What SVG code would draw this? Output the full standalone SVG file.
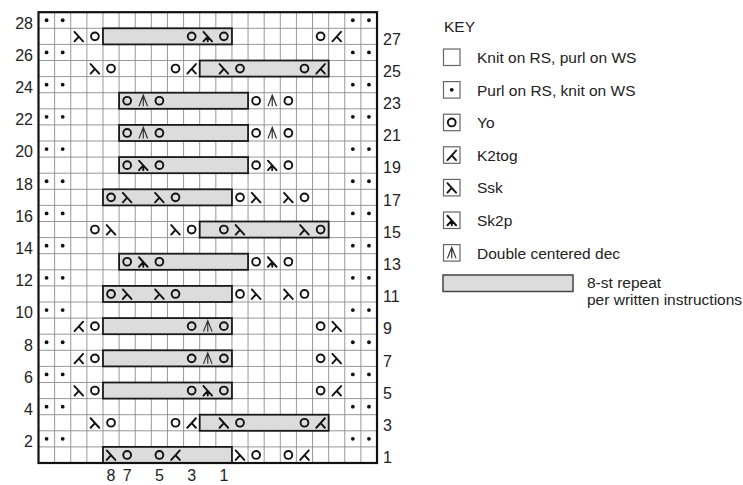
<svg xmlns="http://www.w3.org/2000/svg" xmlns:xlink="http://www.w3.org/1999/xlink" width="743" height="485" viewBox="0 0 743 485">
<style>
.grid{stroke:#858585;stroke-width:0.85;fill:none}
.border{fill:none;stroke:#111;stroke-width:2.2}
.rep{fill:#dcdcdc;stroke:#1a1a1a;stroke-width:1.8}
.sym{fill:none;stroke:#111;stroke-width:1.9;stroke-linecap:round}
.thin{fill:none;stroke:#333;stroke-width:1.2}
.num{font-family:"Liberation Sans",Arial,sans-serif;font-size:16px;fill:#222}
.key{font-family:"Liberation Sans",Arial,sans-serif;font-size:15.5px;fill:#222}
.kbox{fill:#fff;stroke:#666;stroke-width:1.2}
</style>
<defs>
<circle id="yo" r="3.9" class="sym" stroke-width="1.8"/>
<path id="ssk" class="sym" d="M-4.3,-4.5 L4.3,5 M0,0.3 L-4.3,5"/>
<path id="k2" class="sym" d="M4.3,-4.5 L-4.3,5 M0,0.3 L4.3,5"/>
<path id="sk2p" class="sym" d="M-4.3,-4.5 L4.3,5 M0,0.3 L-4.3,5 M0,0.3 L0,5"/>
<path id="dcd" class="thin" d="M-4.3,5.5 L0,-5.5 L4.3,5.5 M0,-5.5 L0,5.5"/>
<circle id="dot" r="1.9" fill="#111"/>
<g id="pr">
<use href="#dot" x="46.56"/><use href="#dot" x="62.68"/><use href="#dot" x="352.84"/><use href="#dot" x="368.96"/>
</g>
</defs>
<rect width="743" height="485" fill="#fff"/>
<g id="chart">
<path class="grid" d="M54.62,12.2V463M70.74,12.2V463M86.86,12.2V463M102.98,12.2V463M119.1,12.2V463M135.22,12.2V463M151.34,12.2V463M167.46,12.2V463M183.58,12.2V463M199.7,12.2V463M215.82,12.2V463M231.94,12.2V463M248.06,12.2V463M264.18,12.2V463M280.3,12.2V463M296.42,12.2V463M312.54,12.2V463M328.66,12.2V463M344.78,12.2V463M360.9,12.2V463
M38.5,28.3H377M38.5,44.4H377M38.5,60.5H377M38.5,76.6H377M38.5,92.7H377M38.5,108.8H377M38.5,124.9H377M38.5,141H377M38.5,157.1H377M38.5,173.2H377M38.5,189.3H377M38.5,205.4H377M38.5,221.5H377M38.5,237.6H377M38.5,253.7H377M38.5,269.8H377M38.5,285.9H377M38.5,302H377M38.5,318.1H377M38.5,334.2H377M38.5,350.3H377M38.5,366.4H377M38.5,382.5H377M38.5,398.6H377M38.5,414.7H377M38.5,430.8H377M38.5,446.9H377"/>
<g id="repeats">
<rect class="rep" x="102.98" y="28.3" width="128.96" height="16.1"/>
<rect class="rep" x="199.7" y="60.5" width="128.96" height="16.1"/>
<rect class="rep" x="119.1" y="92.7" width="128.96" height="16.1"/>
<rect class="rep" x="119.1" y="124.9" width="128.96" height="16.1"/>
<rect class="rep" x="119.1" y="157.1" width="128.96" height="16.1"/>
<rect class="rep" x="102.98" y="189.3" width="128.96" height="16.1"/>
<rect class="rep" x="199.7" y="221.5" width="128.96" height="16.1"/>
<rect class="rep" x="119.1" y="253.7" width="128.96" height="16.1"/>
<rect class="rep" x="102.98" y="285.9" width="128.96" height="16.1"/>
<rect class="rep" x="102.98" y="318.1" width="128.96" height="16.1"/>
<rect class="rep" x="102.98" y="350.3" width="128.96" height="16.1"/>
<rect class="rep" x="102.98" y="382.5" width="128.96" height="16.1"/>
<rect class="rep" x="199.7" y="414.7" width="128.96" height="16.1"/>
<rect class="rep" x="102.98" y="446.9" width="128.96" height="16.1"/>
</g>
<rect class="border" x="38.5" y="12.2" width="338.52" height="450.8"/>
<g id="purls">
<use href="#pr" y="20.25"/><use href="#pr" y="52.45"/><use href="#pr" y="84.65"/><use href="#pr" y="116.85"/><use href="#pr" y="149.05"/><use href="#pr" y="181.25"/><use href="#pr" y="213.45"/><use href="#pr" y="245.65"/><use href="#pr" y="277.85"/><use href="#pr" y="310.05"/><use href="#pr" y="342.25"/><use href="#pr" y="374.45"/><use href="#pr" y="406.65"/><use href="#pr" y="438.85"/>
</g>
<g id="row27">
<use href="#ssk" x="78.8" y="36.35"/><use href="#yo" x="94.92" y="36.35"/><use href="#yo" x="191.64" y="36.35"/><use href="#sk2p" x="207.76" y="36.35"/><use href="#yo" x="223.88" y="36.35"/><use href="#yo" x="320.6" y="36.35"/><use href="#k2" x="336.72" y="36.35"/>
</g>
<g id="row25">
<use href="#ssk" x="94.92" y="68.55"/><use href="#yo" x="111.04" y="68.55"/><use href="#yo" x="175.52" y="68.55"/><use href="#k2" x="191.64" y="68.55"/><use href="#ssk" x="223.88" y="68.55"/><use href="#yo" x="240" y="68.55"/><use href="#yo" x="304.48" y="68.55"/><use href="#k2" x="320.6" y="68.55"/>
</g>
<g id="row23">
<use href="#yo" x="127.16" y="100.75"/><use href="#dcd" x="143.28" y="100.75"/><use href="#yo" x="159.4" y="100.75"/><use href="#yo" x="256.12" y="100.75"/><use href="#dcd" x="272.24" y="100.75"/><use href="#yo" x="288.36" y="100.75"/>
</g>
<g id="row21">
<use href="#yo" x="127.16" y="132.95"/><use href="#dcd" x="143.28" y="132.95"/><use href="#yo" x="159.4" y="132.95"/><use href="#yo" x="256.12" y="132.95"/><use href="#dcd" x="272.24" y="132.95"/><use href="#yo" x="288.36" y="132.95"/>
</g>
<g id="row19">
<use href="#yo" x="127.16" y="165.15"/><use href="#sk2p" x="143.28" y="165.15"/><use href="#yo" x="159.4" y="165.15"/><use href="#yo" x="256.12" y="165.15"/><use href="#sk2p" x="272.24" y="165.15"/><use href="#yo" x="288.36" y="165.15"/>
</g>
<g id="row17">
<use href="#yo" x="111.04" y="197.35"/><use href="#ssk" x="127.16" y="197.35"/><use href="#ssk" x="159.4" y="197.35"/><use href="#yo" x="175.52" y="197.35"/><use href="#yo" x="240" y="197.35"/><use href="#ssk" x="256.12" y="197.35"/><use href="#ssk" x="288.36" y="197.35"/><use href="#yo" x="304.48" y="197.35"/>
</g>
<g id="row15">
<use href="#yo" x="94.92" y="229.55"/><use href="#ssk" x="111.04" y="229.55"/><use href="#ssk" x="175.52" y="229.55"/><use href="#yo" x="191.64" y="229.55"/><use href="#yo" x="223.88" y="229.55"/><use href="#ssk" x="240" y="229.55"/><use href="#ssk" x="304.48" y="229.55"/><use href="#yo" x="320.6" y="229.55"/>
</g>
<g id="row13">
<use href="#yo" x="127.16" y="261.75"/><use href="#sk2p" x="143.28" y="261.75"/><use href="#yo" x="159.4" y="261.75"/><use href="#yo" x="256.12" y="261.75"/><use href="#sk2p" x="272.24" y="261.75"/><use href="#yo" x="288.36" y="261.75"/>
</g>
<g id="row11">
<use href="#yo" x="111.04" y="293.95"/><use href="#ssk" x="127.16" y="293.95"/><use href="#ssk" x="159.4" y="293.95"/><use href="#yo" x="175.52" y="293.95"/><use href="#yo" x="240" y="293.95"/><use href="#ssk" x="256.12" y="293.95"/><use href="#ssk" x="288.36" y="293.95"/><use href="#yo" x="304.48" y="293.95"/>
</g>
<g id="row9">
<use href="#k2" x="78.8" y="326.15"/><use href="#yo" x="94.92" y="326.15"/><use href="#yo" x="191.64" y="326.15"/><use href="#dcd" x="207.76" y="326.15"/><use href="#yo" x="223.88" y="326.15"/><use href="#yo" x="320.6" y="326.15"/><use href="#ssk" x="336.72" y="326.15"/>
</g>
<g id="row7">
<use href="#k2" x="78.8" y="358.35"/><use href="#yo" x="94.92" y="358.35"/><use href="#yo" x="191.64" y="358.35"/><use href="#dcd" x="207.76" y="358.35"/><use href="#yo" x="223.88" y="358.35"/><use href="#yo" x="320.6" y="358.35"/><use href="#ssk" x="336.72" y="358.35"/>
</g>
<g id="row5">
<use href="#ssk" x="78.8" y="390.55"/><use href="#yo" x="94.92" y="390.55"/><use href="#yo" x="191.64" y="390.55"/><use href="#sk2p" x="207.76" y="390.55"/><use href="#yo" x="223.88" y="390.55"/><use href="#yo" x="320.6" y="390.55"/><use href="#k2" x="336.72" y="390.55"/>
</g>
<g id="row3">
<use href="#ssk" x="94.92" y="422.75"/><use href="#yo" x="111.04" y="422.75"/><use href="#yo" x="175.52" y="422.75"/><use href="#k2" x="191.64" y="422.75"/><use href="#ssk" x="223.88" y="422.75"/><use href="#yo" x="240" y="422.75"/><use href="#yo" x="304.48" y="422.75"/><use href="#k2" x="320.6" y="422.75"/>
</g>
<g id="row1">
<use href="#ssk" x="111.04" y="454.95"/><use href="#yo" x="127.16" y="454.95"/><use href="#yo" x="159.4" y="454.95"/><use href="#k2" x="175.52" y="454.95"/><use href="#ssk" x="240" y="454.95"/><use href="#yo" x="256.12" y="454.95"/><use href="#yo" x="288.36" y="454.95"/><use href="#k2" x="304.48" y="454.95"/>
</g>
<g id="row-labels-left" class="num" text-anchor="end">
<text x="33" y="28.5">28</text><text x="33" y="60.7">26</text><text x="33" y="92.9">24</text><text x="33" y="125.1">22</text><text x="33" y="157.3">20</text><text x="33" y="189.5">18</text><text x="33" y="221.7">16</text><text x="33" y="253.9">14</text><text x="33" y="286.1">12</text><text x="33" y="318.3">10</text><text x="33" y="350.5">8</text><text x="33" y="382.7">6</text><text x="33" y="414.9">4</text><text x="33" y="447.1">2</text>
</g>
<g id="row-labels-right" class="num">
<text x="383" y="44.6">27</text><text x="383" y="76.8">25</text><text x="383" y="109">23</text><text x="383" y="141.2">21</text><text x="383" y="173.4">19</text><text x="383" y="205.6">17</text><text x="383" y="237.8">15</text><text x="383" y="270">13</text><text x="383" y="302.2">11</text><text x="383" y="334.4">9</text><text x="383" y="366.6">7</text><text x="383" y="398.8">5</text><text x="383" y="431">3</text><text x="383" y="463.2">1</text>
</g>
<g id="stitch-labels" class="num" text-anchor="middle">
<text x="111.04" y="481">8</text><text x="127.16" y="481">7</text><text x="159.4" y="481">5</text><text x="191.64" y="481">3</text><text x="223.88" y="481">1</text>
</g>
</g>
<g id="legend">
<text class="key" x="444" y="32" font-size="18">KEY</text>
<g id="key-knit"><rect class="kbox" x="443.5" y="49" width="16.5" height="16.5"/><text class="key" x="477" y="63">Knit on RS, purl on WS</text></g>
<g id="key-purl"><rect class="kbox" x="443.5" y="81.6" width="16.5" height="16.5"/><use href="#dot" x="451.75" y="89.85"/><text class="key" x="477" y="95.6">Purl on RS, knit on WS</text></g>
<g id="key-yo"><rect class="kbox" x="443.5" y="114.2" width="16.5" height="16.5"/><use href="#yo" x="451.75" y="122.45"/><text class="key" x="477" y="128.2">Yo</text></g>
<g id="key-k2tog"><rect class="kbox" x="443.5" y="146.8" width="16.5" height="16.5"/><use href="#k2" x="451.75" y="155.05"/><text class="key" x="477" y="160.8">K2tog</text></g>
<g id="key-ssk"><rect class="kbox" x="443.5" y="179.4" width="16.5" height="16.5"/><use href="#ssk" x="451.75" y="187.65"/><text class="key" x="477" y="193.4">Ssk</text></g>
<g id="key-sk2p"><rect class="kbox" x="443.5" y="212" width="16.5" height="16.5"/><use href="#sk2p" x="451.75" y="220.25"/><text class="key" x="477" y="226">Sk2p</text></g>
<g id="key-dcd"><rect class="kbox" x="443.5" y="244.6" width="16.5" height="16.5"/><use href="#dcd" x="451.75" y="252.85"/><text class="key" x="477" y="258.6">Double centered dec</text></g>
<g id="key-repeat"><rect x="443" y="275" width="130" height="16.5" fill="#dcdcdc" stroke="#444" stroke-width="1.5"/><text class="key" x="587" y="288" font-size="14.5">8-st repeat</text><text class="key" x="587" y="304.5" font-size="14.5">per written instructions</text></g>
</g>
</svg>
